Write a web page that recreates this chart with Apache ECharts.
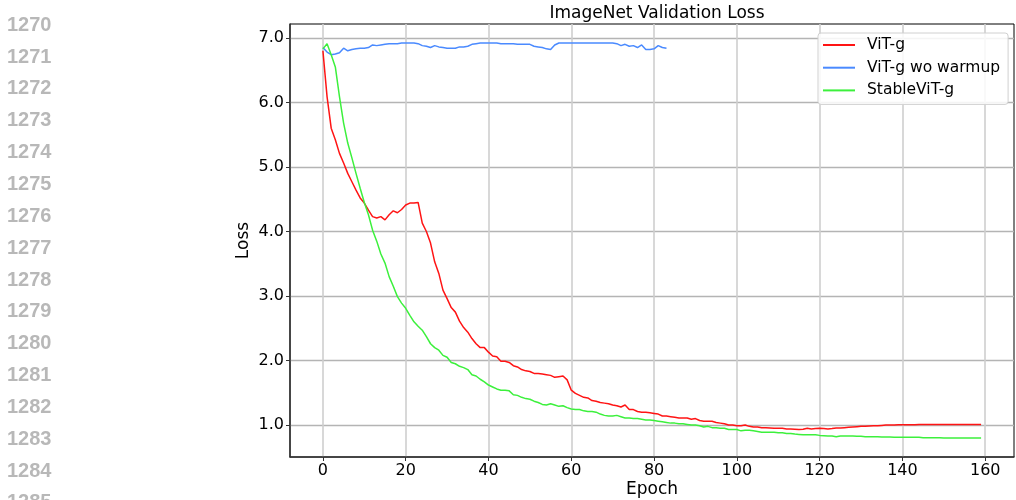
<!DOCTYPE html>
<html>
<head>
<meta charset="utf-8">
<script src="https://cdn.jsdelivr.net/npm/echarts@6/dist/echarts.min.js"></script>
<style>
  html, body { margin: 0; padding: 0; background: #ffffff; }
  #chart { width: 1016px; height: 500px; }
</style>
</head>
<body>
<div id="chart"></div>
<script>
// ---- data ----
const seriesNames = ['ViT-g', 'ViT-g wo warmup', 'StableViT-g'];

const vitG = [
  6.80, 6.09, 5.60, 5.42, 5.21, 5.06, 4.90, 4.77, 4.64, 4.52,
  4.44, 4.33, 4.23, 4.21, 4.23, 4.18, 4.26, 4.32, 4.29, 4.34,
  4.41, 4.44, 4.44, 4.45, 4.13, 4.00, 3.82, 3.53, 3.35, 3.09,
  2.96, 2.82, 2.75, 2.61, 2.51, 2.44, 2.34, 2.26, 2.20, 2.20,
  2.13, 2.07, 2.06, 1.99, 1.99, 1.97, 1.92, 1.90, 1.86, 1.84,
  1.83, 1.80, 1.80, 1.79, 1.78, 1.77, 1.74, 1.75, 1.76, 1.70,
  1.54, 1.49, 1.46, 1.43, 1.42, 1.38, 1.37, 1.35, 1.34, 1.33,
  1.31, 1.30, 1.28, 1.31, 1.24, 1.24, 1.21, 1.20, 1.20, 1.19,
  1.18, 1.17, 1.14, 1.14, 1.13, 1.12, 1.11, 1.11, 1.11, 1.09,
  1.10, 1.07, 1.06, 1.06, 1.06, 1.04, 1.03, 1.02, 1.00, 1.00,
  0.99, 0.99, 1.00, 0.98, 0.97, 0.97, 0.96, 0.96, 0.955, 0.95,
  0.95, 0.95, 0.94, 0.94, 0.935, 0.93, 0.935, 0.95, 0.94, 0.945,
  0.95, 0.945, 0.94, 0.945, 0.955, 0.955, 0.96, 0.965, 0.97, 0.975,
  0.98, 0.98, 0.985, 0.99, 0.99, 0.995, 1.00, 1.00, 1.00, 1.005,
  1.005, 1.005, 1.005, 1.005, 1.01, 1.01, 1.01, 1.01, 1.01, 1.01,
  1.01, 1.01, 1.01, 1.01, 1.01, 1.01, 1.01, 1.01, 1.01, 1.01
];

const vitGNoWarmup = [
  6.85, 6.78, 6.74, 6.75, 6.77, 6.84, 6.80, 6.82, 6.83, 6.84,
  6.84, 6.85, 6.89, 6.88, 6.89, 6.90, 6.91, 6.91, 6.91, 6.92,
  6.92, 6.92, 6.92, 6.91, 6.88, 6.87, 6.85, 6.88, 6.86, 6.85,
  6.84, 6.84, 6.84, 6.86, 6.86, 6.87, 6.90, 6.91, 6.92, 6.92,
  6.92, 6.92, 6.92, 6.91, 6.91, 6.91, 6.91, 6.90, 6.90, 6.90,
  6.90, 6.87, 6.86, 6.85, 6.83, 6.82, 6.89, 6.92, 6.92, 6.92,
  6.92, 6.92, 6.92, 6.92, 6.92, 6.92, 6.92, 6.92, 6.92, 6.92,
  6.92, 6.91, 6.88, 6.90, 6.87, 6.88, 6.85, 6.89, 6.82, 6.82,
  6.83, 6.88, 6.85, 6.84
];

const stableVitG = [
  6.83, 6.91, 6.74, 6.55, 6.09, 5.68, 5.37, 5.14, 4.90, 4.67,
  4.45, 4.26, 4.02, 3.85, 3.65, 3.51, 3.30, 3.15, 2.99, 2.89,
  2.81, 2.70, 2.60, 2.53, 2.47, 2.37, 2.26, 2.20, 2.16, 2.08,
  2.05, 1.97, 1.95, 1.91, 1.89, 1.86, 1.78, 1.76, 1.71, 1.67,
  1.62, 1.59, 1.56, 1.54, 1.54, 1.53, 1.47, 1.46, 1.43, 1.41,
  1.40, 1.37, 1.35, 1.32, 1.31, 1.33, 1.31, 1.29, 1.30, 1.27,
  1.25, 1.24, 1.24, 1.22, 1.21, 1.21, 1.20, 1.17, 1.15, 1.14,
  1.14, 1.15, 1.13, 1.11, 1.11, 1.10, 1.10, 1.09, 1.08, 1.08,
  1.07, 1.06, 1.05, 1.04, 1.03, 1.03, 1.02, 1.02, 1.01, 1.00,
  1.00, 0.99, 0.97, 0.98, 0.96, 0.96, 0.95, 0.95, 0.93, 0.93,
  0.93, 0.91, 0.92, 0.92, 0.91, 0.90, 0.89, 0.89, 0.89, 0.89,
  0.88, 0.88, 0.87, 0.87, 0.86, 0.855, 0.85, 0.85, 0.85, 0.85,
  0.84, 0.835, 0.83, 0.83, 0.82, 0.83, 0.83, 0.83, 0.83, 0.825,
  0.825, 0.82, 0.82, 0.82, 0.82, 0.815, 0.815, 0.815, 0.81, 0.81,
  0.81, 0.81, 0.81, 0.81, 0.81, 0.805, 0.805, 0.805, 0.805, 0.805,
  0.80, 0.80, 0.80, 0.80, 0.80, 0.80, 0.80, 0.80, 0.80, 0.80
];

const xTicks = [0, 20, 40, 60, 80, 100, 120, 140, 160];
const yTicks = [1, 2, 3, 4, 5, 6, 7];
const lineNumbers = ['1269', '1270', '1271', '1272', '1273', '1274', '1275', '1276', '1277',
                     '1278', '1279', '1280', '1281', '1282', '1283', '1284', '1285'];

// ---- chart ----
const colors = ['#ff1414', '#4a8aff', '#3cf03c'];
const FONT = 'DejaVu Sans';
const toPairs = arr => arr.map((v, i) => [i, v]);

const chart = echarts.init(document.getElementById('chart'), null, { renderer: 'canvas' });

const graphics = lineNumbers.map((t, i) => ({
  type: 'text',
  left: 7,
  top: 25.3 + (i - 1) * 31.84 - 10,
  silent: true,
  style: {
    text: t,
    fill: '#b8b8b8',
    font: 'bold 20px "Liberation Sans"',
    textVerticalAlign: 'top'
  }
}));

chart.setOption({
  animation: false,
  backgroundColor: '#ffffff',
  textStyle: { fontFamily: FONT },
  graphic: graphics,
  title: {
    text: 'ImageNet Validation Loss',
    left: 652,
    textAlign: 'center',
    top: 0,
    textStyle: { fontFamily: FONT, fontSize: 17, fontWeight: 'normal', color: '#000' }
  },
  grid: {
    left: 290, right: 2, top: 24, bottom: 43,
    containLabel: false,
    outerBoundsMode: 'none',
    show: true, borderColor: '#000', borderWidth: 1, backgroundColor: 'transparent'
  },
  legend: {
    data: seriesNames,
    orient: 'vertical',
    left: 818,
    top: 33,
    width: 189,
    icon: 'rect',
    itemWidth: 32,
    itemHeight: 2,
    itemGap: 6.7,
    padding: [4, 8, 6, 5],
    backgroundColor: 'rgba(255,255,255,0.85)',
    borderColor: '#d0d0d0',
    borderWidth: 1,
    borderRadius: 3,
    textStyle: { fontFamily: FONT, fontSize: 15.5, color: '#000', lineHeight: 16, padding: [0, 0, 0, 7] }
  },
  xAxis: {
    type: 'value',
    min: -7.95,
    max: 166.95,
    name: 'Epoch',
    nameLocation: 'middle',
    nameGap: 24,
    nameMoveOverlap: false,
    nameTextStyle: { fontFamily: FONT, fontSize: 17, color: '#000' },
    axisLine: { show: true, onZero: false, lineStyle: { color: '#333', width: 1.5 } },
    axisTick: { show: true, length: 4, customValues: xTicks, lineStyle: { color: '#333' } },
    axisLabel: { customValues: xTicks, fontFamily: FONT, fontSize: 16, color: '#000', margin: 6 },
    splitLine: { show: true, lineStyle: { color: '#cfcfcf', width: 1.6 } }
  },
  yAxis: {
    type: 'value',
    min: 0.505,
    max: 7.215,
    name: 'Loss',
    nameLocation: 'middle',
    nameGap: 38,
    nameMoveOverlap: false,
    nameTextStyle: { fontFamily: FONT, fontSize: 17, color: '#000' },
    axisLine: { show: true, onZero: false, lineStyle: { color: '#333', width: 1.5 } },
    axisTick: { show: true, length: 4, customValues: yTicks, lineStyle: { color: '#333' } },
    axisLabel: {
      customValues: yTicks, fontFamily: FONT, fontSize: 16, color: '#000', margin: 6,
      formatter: v => Number(v).toFixed(1)
    },
    splitLine: { show: true, lineStyle: { color: '#b4b4b4', width: 1.3 } }
  },
  series: [
    { name: seriesNames[0], type: 'line', data: toPairs(vitG), showSymbol: false, symbol: 'none',
      lineStyle: { color: colors[0], width: 1.5 }, itemStyle: { color: colors[0] } },
    { name: seriesNames[1], type: 'line', data: toPairs(vitGNoWarmup), showSymbol: false, symbol: 'none',
      lineStyle: { color: colors[1], width: 1.5 }, itemStyle: { color: colors[1] } },
    { name: seriesNames[2], type: 'line', data: toPairs(stableVitG), showSymbol: false, symbol: 'none',
      lineStyle: { color: colors[2], width: 1.5 }, itemStyle: { color: colors[2] } }
  ]
});
</script>
</body>
</html>
